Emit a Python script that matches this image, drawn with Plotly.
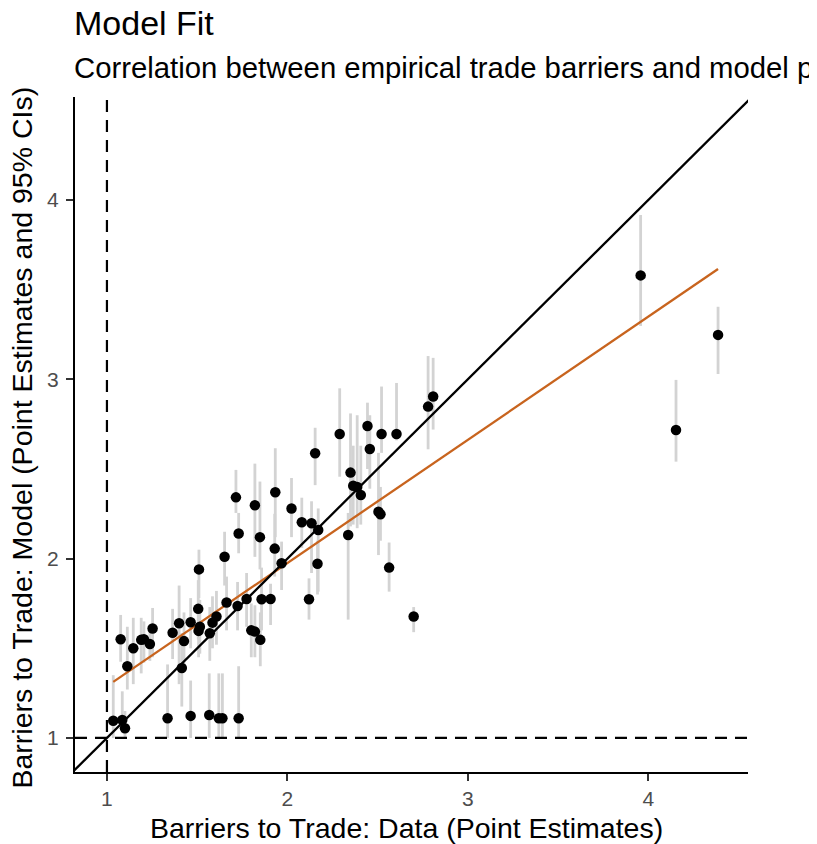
import numpy as np
import plotly.graph_objects as go

# data barriers (point estimates)
x_data = [1.035, 1.085, 1.10, 1.076, 1.113, 1.146, 1.19, 1.205, 1.238, 1.253,
          1.336, 1.364, 1.40, 1.415, 1.427, 1.464, 1.464, 1.506, 1.51, 1.508,
          1.515, 1.567, 1.57, 1.585, 1.607, 1.62, 1.64, 1.652, 1.663, 1.715,
          1.73, 1.724, 1.73, 1.774, 1.82, 1.848, 1.80, 1.82, 1.85, 1.857,
          1.907, 1.933, 1.93, 1.968, 2.023, 2.08, 2.134, 2.171, 2.154, 2.167,
          2.12, 2.29, 2.35, 2.337, 2.365, 2.387, 2.407, 2.444, 2.457, 2.522,
          2.605, 2.505, 2.516, 2.564, 2.70, 2.78, 2.808, 3.958, 4.387, 4.154]
# model barriers (point estimates)
y_model = [1.096, 1.10, 1.054, 1.55, 1.40, 1.50, 1.547, 1.55, 1.524, 1.61,
           1.11, 1.587, 1.64, 1.39, 1.54, 1.123, 1.645, 1.72, 1.94, 1.597,
           1.62, 1.128, 1.584, 1.643, 1.677, 1.11, 1.11, 2.011, 1.755, 2.342,
           2.14, 1.736, 1.11, 1.775, 2.298, 2.12, 1.60, 1.593, 1.547, 1.774,
           1.775, 2.37, 2.056, 1.974, 2.28, 2.203, 2.197, 2.16, 2.588, 1.972,
           1.774, 2.695, 2.48, 2.132, 2.407, 2.40, 2.355, 2.74, 2.612, 2.695,
           2.695, 2.262, 2.248, 1.95, 1.677, 2.848, 2.904, 3.58, 3.248, 2.718]
# 95% CI bounds of model estimates
y_low = [1.0, 1.03, 1.0, 1.425, 1.27, 1.30, 1.36, 1.42, 1.43, 1.45,
         1.0, 1.44, 1.30, 1.175, 1.38, 1.0, 1.50, 1.55, 1.78, 1.45,
         1.47, 1.0, 1.43, 1.50, 1.52, 1.0, 1.0, 1.85, 1.60, 2.255,
         2.03, 1.60, 1.0, 1.62, 2.01, 1.94, 1.45, 1.45, 1.40, 1.60,
         1.63, 2.12, 1.90, 1.825, 2.12, 2.06, 1.92, 1.816, 2.41, 1.80,
         1.66, 2.457, 2.18, 1.66, 2.19, 2.17, 2.19, 2.50, 2.39, 2.59,
         2.66, 2.02, 2.10, 1.816, 1.59, 2.61, 2.72, 3.298, 3.03, 2.541]
y_high = [1.35, 1.26, 1.15, 1.686, 1.62, 1.67, 1.67, 1.65, 1.62, 1.725,
          1.41, 1.72, 1.85, 1.585, 1.70, 1.32, 1.78, 1.88, 2.05, 1.75,
          1.77, 1.36, 1.73, 1.79, 1.82, 1.36, 1.36, 2.15, 1.90, 2.495,
          2.255, 1.87, 1.40, 1.92, 2.53, 2.43, 1.75, 1.74, 1.70, 1.95,
          1.86, 2.616, 2.25, 2.095, 2.45, 2.34, 2.32, 2.28, 2.73, 2.10,
          1.89, 2.95, 2.81, 2.255, 2.63, 2.80, 2.63, 2.87, 2.80, 2.96,
          2.98, 2.59, 2.40, 2.09, 1.73, 3.13, 3.12, 3.917, 3.405, 2.997]

x_tick_vals = [1, 2, 3, 4]
y_tick_vals = [1, 2, 3, 4]
x_range = [0.823, 4.553]
y_range = [0.81, 4.575]

x = np.array(x_data)
y = np.array(y_model)
err_plus = np.array(y_high) - y
err_minus = y - np.array(y_low)

slope, intercept = np.polyfit(x, y, 1)
fit_x = np.array([x.min(), x.max()])
fit_y = intercept + slope * fit_x

FONT = "Liberation Sans, Arial, sans-serif"

fig = go.Figure()

fig.add_trace(go.Scatter(
    x=x, y=y, mode="markers",
    marker=dict(size=0.1, color="rgba(0,0,0,0)"),
    error_y=dict(type="data", symmetric=False, array=err_plus, arrayminus=err_minus,
                 color="#d3d3d3", thickness=2.8, width=0),
    showlegend=False, hoverinfo="skip"))

fig.add_trace(go.Scatter(
    x=fit_x, y=fit_y, mode="lines",
    line=dict(color="#C8641E", width=2.3), showlegend=False))

diag = np.array([min(x_range[0], y_range[0]) - 1, max(x_range[1], y_range[1]) + 1])
fig.add_trace(go.Scatter(
    x=diag, y=diag, mode="lines",
    line=dict(color="black", width=2.3), showlegend=False))

fig.add_trace(go.Scatter(
    x=x, y=y, mode="markers",
    marker=dict(size=10.5, color="black"),
    showlegend=False))

fig.add_vline(x=1, line=dict(color="black", width=2.2, dash="12px,8px"))
fig.add_hline(y=1, line=dict(color="black", width=2.2, dash="12px,8px"))

axis_common = dict(showgrid=False, zeroline=False, showline=True, linecolor="black",
                   linewidth=2.2, ticks="outside", ticklen=7, tickwidth=1.6,
                   tickcolor="#333333",
                   tickfont=dict(size=21, color="#4d4d4d", family=FONT))

fig.update_layout(
    width=817, height=844,
    margin=dict(l=67, r=77, t=89, b=80),
    plot_bgcolor="white", paper_bgcolor="white",
    font=dict(family=FONT, color="black"),
    showlegend=False,
    xaxis=dict(range=x_range, tickvals=x_tick_vals, ticktext=[str(v) for v in x_tick_vals],
               ticklabelstandoff=0, **axis_common),
    yaxis=dict(range=y_range, tickvals=y_tick_vals, ticktext=[str(v) for v in y_tick_vals],
               ticklabelstandoff=3, **axis_common),
    annotations=[
        dict(text="Model Fit", xref="paper", yref="paper", x=0, y=1,
             xanchor="left", yanchor="middle", xshift=-3, yshift=74.5, showarrow=False,
             font=dict(size=34, family=FONT, color="black")),
        dict(text="Correlation between empirical trade barriers and model predictions",
             xref="paper", yref="paper", x=0, y=1, xanchor="left", yanchor="middle",
             xshift=-3, yshift=30, showarrow=False,
             font=dict(size=29.3, family=FONT, color="black")),
        dict(text="Barriers to Trade: Data (Point Estimates)", xref="paper", yref="paper",
             x=0.5, y=0, xanchor="center", yanchor="middle", xshift=-5, yshift=-55.5,
             showarrow=False,
             font=dict(size=28.5, family=FONT, color="black")),
        dict(text="Barriers to Trade: Model (Point Estimates and 95% CIs)", xref="paper",
             yref="paper", x=0, y=0.5, xanchor="center", yanchor="middle", xshift=-54,
             yshift=-3, textangle=-90, showarrow=False,
             font=dict(size=28.5, family=FONT, color="black")),
    ],
)

fig.write_html("out.html")
